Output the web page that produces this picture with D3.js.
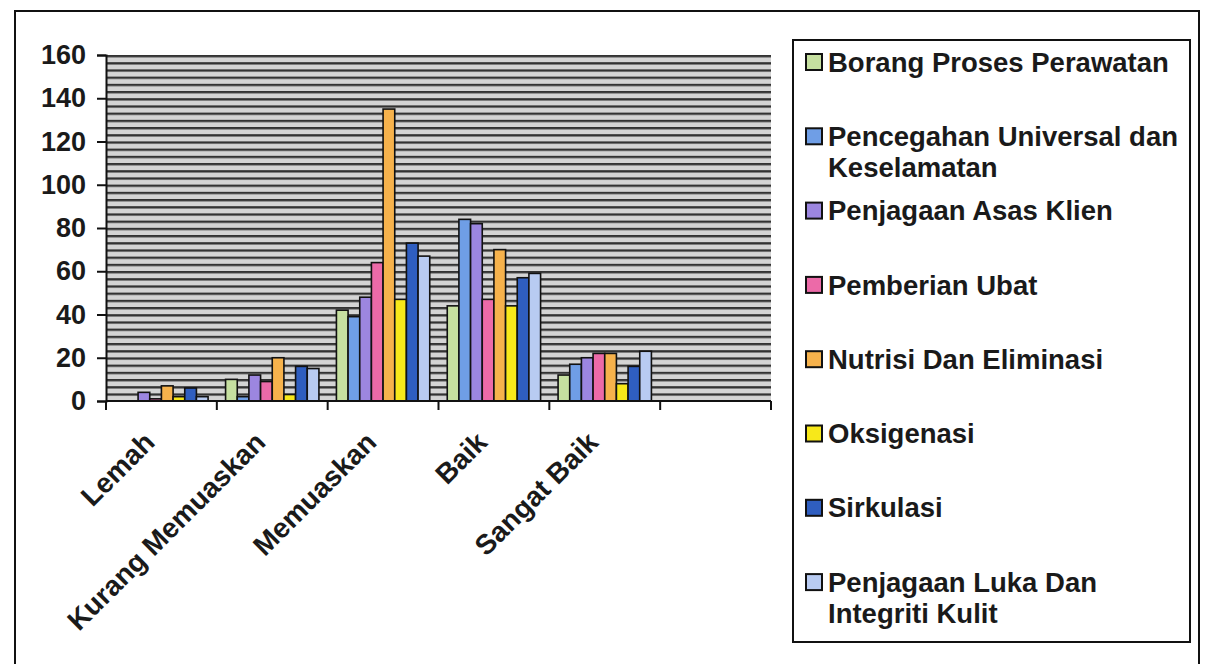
<!DOCTYPE html>
<html>
<head>
<meta charset="utf-8">
<script src="https://cdn.jsdelivr.net/npm/d3@7"></script>
<style>
    body { margin: 0; background: white; }
    svg { display: block; font-family: "Liberation Sans", Arial, sans-serif; }
</style>
</head>
<body>
<svg width="1208" height="664"></svg>
<script>
const categories = ["Lemah", "Kurang Memuaskan", "Memuaskan", "Baik", "Sangat Baik"]

const series = [
    "Borang Proses Perawatan",
    "Pencegahan Universal dan Keselamatan",
    "Penjagaan Asas Klien",
    "Pemberian Ubat",
    "Nutrisi Dan Eliminasi",
    "Oksigenasi",
    "Sirkulasi",
    "Penjagaan Luka Dan Integriti Kulit"
]

// one array per series, values in category order
const borang = [0, 10, 42, 44, 12]
const pencegahan = [0, 2, 39, 84, 17]
const asasKlien = [4, 12, 48, 82, 20]
const pemberian = [1, 9, 64, 47, 22]
const nutrisi = [7, 20, 135, 70, 22]
const oksigenasi = [2, 3, 47, 44, 8]
const sirkulasi = [6, 16, 73, 57, 16]
const lukaKulit = [2, 15, 67, 59, 23]

const yTicks = [0, 20, 40, 60, 80, 100, 120, 140, 160]

const colors = ["#c6e0a0", "#6f9ee6", "#9c86e0", "#ec6aa8", "#f6b24c", "#f7e81a", "#2f5ec0", "#b8cbf2"]

const values = [borang, pencegahan, asasKlien, pemberian, nutrisi, oksigenasi, sirkulasi, lukaKulit]

const svg = d3.select("svg")

// the excel chart keeps one empty category slot at the right
const slots = categories.concat([""])

const xScale = d3.scaleBand().domain(slots).range([106, 771])
const barScale = d3.scaleBand().domain(series).range([0, xScale.bandwidth()])
    .paddingInner(0).paddingOuter(0.75)
const yScale = d3.scaleLinear().domain([0, 160]).range([401, 55])
const colorScale = d3.scaleOrdinal().domain(series).range(colors)

// outer frame
svg.append("rect")
    .attr("x", 15).attr("y", 11)
    .attr("width", 1184).attr("height", 700)
    .style("fill", "none")
    .style("stroke", "#111")
    .style("stroke-width", 2)

// striped plot background
const defs = svg.append("defs")
const pat = defs.append("pattern")
    .attr("id", "stripes")
    .attr("patternUnits", "userSpaceOnUse")
    .attr("width", 10)
    .attr("height", 7.2)
    .attr("y", 55)
pat.append("rect").attr("width", 10).attr("height", 7.2).style("fill", "#d4d4d4")
pat.append("rect").attr("y", 0).attr("width", 10).attr("height", 2.3).style("fill", "#333")

svg.append("rect")
    .attr("x", xScale.range()[0])
    .attr("y", yScale(160))
    .attr("width", xScale.range()[1] - xScale.range()[0])
    .attr("height", yScale(0) - yScale(160))
    .style("fill", "url(#stripes)")

// bars
const rows = categories.map((c, i) => ({ cat: c, vals: series.map((s, j) => ({ s: s, v: values[j][i] })) }))

svg.selectAll("g.cat")
    .data(rows)
    .enter()
    .append("g")
    .attr("class", "cat")
    .attr("transform", d => `translate(${xScale(d.cat)},0)`)
    .selectAll("rect")
    .data(d => d.vals.filter(e => e.v > 0))
    .enter()
    .append("rect")
    .attr("x", d => barScale(d.s))
    .attr("y", d => yScale(d.v))
    .attr("width", barScale.bandwidth())
    .attr("height", d => yScale(0) - yScale(d.v))
    .style("fill", d => colorScale(d.s))
    .style("stroke", "#111")
    .style("stroke-width", 1.6)

// y axis
const yAxis = d3.axisLeft(yScale).tickValues(yTicks).tickSizeOuter(0).tickSize(9).tickPadding(11)
const yG = svg.append("g")
    .attr("transform", "translate(106,0)")
    .call(yAxis)
yG.select(".domain").style("stroke", "#111").style("stroke-width", 2)
yG.selectAll(".tick line").style("stroke", "#111").style("stroke-width", 2)
yG.selectAll(".tick text")
    .style("font-size", "27px")
    .style("font-weight", "bold")
    .style("fill", "#1a1a1a")

// x axis line and ticks between categories
svg.append("line")
    .attr("x1", xScale.range()[0]).attr("x2", xScale.range()[1])
    .attr("y1", yScale(0)).attr("y2", yScale(0))
    .style("stroke", "#111").style("stroke-width", 2)

svg.selectAll("line.xtick")
    .data(slots.map(s => xScale(s)).concat([xScale.range()[1]]))
    .enter()
    .append("line")
    .attr("class", "xtick")
    .attr("x1", d => d).attr("x2", d => d)
    .attr("y1", yScale(0)).attr("y2", yScale(0) + 9)
    .style("stroke", "#111").style("stroke-width", 2)

// rotated category labels
svg.selectAll("text.xlab")
    .data(categories)
    .enter()
    .append("text")
    .attr("class", "xlab")
    .attr("transform", d => `translate(${xScale(d) + xScale.bandwidth() / 2 - 12},${yScale(0) + 36}) rotate(-45)`)
    .attr("dy", "0.35em")
    .style("text-anchor", "end")
    .style("font-size", "28px")
    .style("font-weight", "bold")
    .style("fill", "#1a1a1a")
    .text(d => d)

// legend
svg.append("rect")
    .attr("x", 793).attr("y", 40)
    .attr("width", 397).attr("height", 602)
    .style("fill", "white")
    .style("stroke", "#111")
    .style("stroke-width", 2)

const legend = svg.selectAll("g.leg")
    .data(series)
    .enter()
    .append("g")
    .attr("class", "leg")
    .attr("transform", (d, i) => `translate(806,${62 + i * 74.3})`)

legend.append("rect")
    .attr("x", 0).attr("y", -8)
    .attr("width", 16).attr("height", 16)
    .style("fill", d => colorScale(d))
    .style("stroke", "#111")
    .style("stroke-width", 2)

legend.each(function (d) {
    const t = d3.select(this).append("text")
        .attr("x", 22)
        .attr("y", 0)
        .attr("dy", "0.35em")
        .style("font-size", "27.5px")
        .style("font-weight", "bold")
        .style("fill", "#1a1a1a")
    // wrap long names onto a second line
    const words = d.split(" ")
    let line = []
    let tspan = t.append("tspan").attr("x", 22)
    words.forEach(w => {
        line.push(w)
        tspan.text(line.join(" "))
        if (tspan.node().getComputedTextLength() > 358 && line.length > 1) {
            line.pop()
            tspan.text(line.join(" "))
            line = [w]
            tspan = t.append("tspan").attr("x", 22).attr("dy", 31).text(w)
        }
    })
})
</script>
</body>
</html>
